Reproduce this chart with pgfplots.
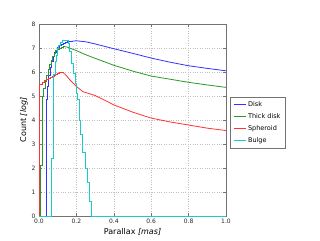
\documentclass[border=0pt]{standalone}
\usepackage{pgfplots}
\pgfplotsset{compat=1.18}
\usepackage{fontspec}
\setmainfont{DejaVu Sans}
\definecolor{mblue}{rgb}{0.2,0.2,1}
\definecolor{mgreen}{rgb}{0.15,0.6,0.15}
\definecolor{mred}{rgb}{1,0.2,0.2}
\definecolor{mcyan}{rgb}{0.1,0.8,0.8}
\definecolor{frame}{rgb}{0.45,0.45,0.45}
\begin{document}
\begin{tikzpicture}
\path[use as bounding box] (-39pt,-24pt) rectangle (281pt,216pt);
\begin{axis}[
  at={(0pt,0pt)}, anchor=south west,
  scale only axis, width=187pt, height=192pt,
  xmin=0, xmax=1, ymin=0, ymax=8,
  xtick={0,0.2,0.4,0.6,0.8,1.0}, ytick={0,1,2,3,4,5,6,7,8},
  xticklabel style={/pgf/number format/.cd, fixed, fixed zerofill, precision=1},
  /pgf/number format/assume math mode=true,
  tick label style={font=\fontsize{6}{7}\selectfont, text=black!85},
  xtick pos=both, ytick pos=both, tick align=inside,
  major tick length=3pt, tick style={frame, line width=0.5pt},
  grid=major, grid style={dotted, gray!50, line width=0.5pt},
  axis line style={frame, line width=0.9pt},
  xlabel={Parallax \textit{[mas]}}, ylabel={Count \textit{[log]}},
  label style={font=\fontsize{8}{9}\selectfont},
  xlabel style={yshift=3pt},
  ylabel style={yshift=-3pt},
  legend style={at={(1.021,0.62)}, anchor=north west, draw=frame, line width=0.7pt,
    font=\fontsize{6.5}{8}\selectfont, row sep=1.6pt, inner xsep=3pt, inner ysep=2pt},
  legend cell align=left,
  legend image code/.code={\draw[#1, sharp plot] (0pt,0pt) -- (12pt,0pt);},
  every axis plot/.append style={line width=0.8pt},
]
% Disk
\addplot[mblue, const plot] coordinates {
(0,0) (0.037,4.85) (0.045,5.4) (0.052,5.85) (0.060,6.2) (0.068,6.45) (0.076,6.65)
(0.084,6.8) (0.092,6.92) (0.100,7.02) (0.110,7.1) (0.120,7.16) (0.130,7.2)
(0.140,7.24) (0.150,7.26) (0.160,7.28) (0.170,7.29) (0.180,7.29)};
\addlegendentry{Disk}
\addplot[mblue, forget plot] coordinates {
(0.18,7.29) (0.2,7.3) (0.25,7.26) (0.3,7.17) (0.35,7.07) (0.4,6.97) (0.5,6.78)
(0.6,6.58) (0.7,6.41) (0.8,6.26) (0.9,6.15) (1.0,6.05)};
% Thick disk
\addplot[mgreen, const plot] coordinates {
(0,0) (0.005,2.1) (0.018,5.0) (0.024,5.3) (0.032,5.6) (0.040,5.85) (0.048,6.1)
(0.056,6.3) (0.064,6.5) (0.072,6.65) (0.080,6.78) (0.090,6.88) (0.100,6.95)
(0.110,7.0) (0.120,7.03) (0.130,7.05) (0.140,7.05)};
\addlegendentry{Thick disk}
\addplot[mgreen, forget plot] coordinates {
(0.14,7.05) (0.15,7.04) (0.2,6.89) (0.25,6.72) (0.3,6.57) (0.4,6.28) (0.5,6.04)
(0.6,5.83) (0.7,5.70) (0.8,5.57) (0.9,5.46) (1.0,5.36)};
% Spheroid
\addplot[mred, const plot] coordinates {
(0,0) (0.004,5.5) (0.02,5.58) (0.03,5.63) (0.04,5.68) (0.05,5.73) (0.06,5.78)
(0.07,5.83) (0.08,5.87) (0.09,5.92) (0.10,5.96) (0.11,5.99) (0.12,6.0) (0.13,5.97)};
\addlegendentry{Spheroid}
\addplot[mred, forget plot] coordinates {
(0.13,5.97) (0.15,5.82) (0.165,5.67) (0.2,5.4) (0.235,5.18) (0.3,5.02) (0.35,4.83)
(0.4,4.63) (0.5,4.33) (0.6,4.08) (0.7,3.92) (0.8,3.79) (0.9,3.66) (1.0,3.56)};
% Bulge
\addplot[mcyan, const plot] coordinates {
(0,0) (0.068,2.4) (0.077,5.9) (0.087,6.43) (0.095,6.7) (0.100,6.99) (0.105,7.1)
(0.115,7.25) (0.125,7.3) (0.155,7.2) (0.165,6.85) (0.175,6.36) (0.183,5.94)
(0.192,5.53) (0.201,5.11) (0.207,4.85) (0.214,4.0) (0.222,3.4) (0.232,2.65)
(0.246,2.0) (0.258,1.4) (0.268,0.62) (0.278,0) (1.0,0)};
\addlegendentry{Bulge}
\end{axis}
\end{tikzpicture}
\end{document}
